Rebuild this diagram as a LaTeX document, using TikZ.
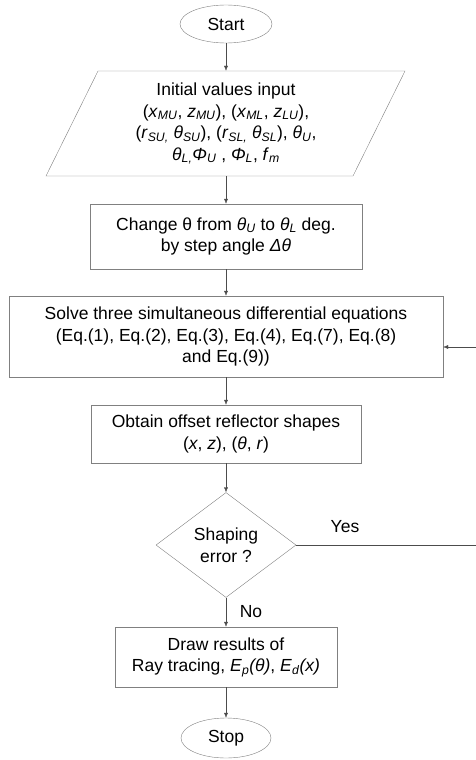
\documentclass[tikz,border=0pt]{standalone}
\usepackage{fontspec}
\setmainfont{Liberation Sans}
\usetikzlibrary{shapes.geometric,arrows.meta}
\newcommand{\vsub}[2]{\textit{#1}\textsubscript{\textit{#2}}}

\begin{document}
\begin{tikzpicture}[x=1pt,y=-1pt,font=\fontsize{17.5}{21.5}\selectfont,
  box/.style={draw=gray,rectangle,align=center,inner sep=0pt},
  term/.style={draw=gray,ellipse,inner sep=0pt},
  flow/.style={draw=black!70,-{Latex[length=5pt,width=4pt]}}]
\useasboundingbox (0,0) rectangle (475,760);
\node[term,minimum width=92,minimum height=38] (start) at (226,24) {Start};
\node[align=center,inner sep=0pt,minimum height=105] (input) at (226,123.5)
  {Initial values input\\
  (\vsub{x}{MU}, \vsub{z}{MU}), (\vsub{x}{ML}, \vsub{z}{LU}),\\
  (\vsub{r}{SU,} \vsub{θ}{SU}), (\vsub{r}{SL,} \vsub{θ}{SL}), \vsub{θ}{U},\\
  \vsub{θ}{L,}\vsub{Φ}{U} , \vsub{Φ}{L}, \vsub{f}{m}};
\draw[gray] (98,71) -- (405,71) -- (353,176) -- (46,176) -- cycle;
\node[box,minimum width=272,minimum height=65] (change) at (226,236.5)
  {Change θ from \vsub{θ}{U} to \vsub{θ}{L} deg.\\by step angle \textit{Δθ}};
\node[box,minimum width=434,minimum height=81] (solve) at (226,336.5)
  {Solve three simultaneous differential equations\\
  (Eq.(1), Eq.(2), Eq.(3), Eq.(4), Eq.(7), Eq.(8)\\and Eq.(9))};
\node[box,minimum width=270,minimum height=58] (obtain) at (226,434)
  {Obtain offset reflector shapes\\(\textit{x}, \textit{z}), (\textit{θ}, \textit{r})};
\node[draw=gray,diamond,minimum width=140,minimum height=105,inner sep=0pt,align=center]
  (check) at (226,545) {Shaping\\error ?};
\node[box,minimum width=222,minimum height=60] (result) at (226,657)
  {Draw results of\\Ray tracing, \vsub{E}{p}\textit{(θ)}, \vsub{E}{d}\textit{(x)}};
\node[term,minimum width=90,minimum height=40] (stop) at (226,738) {Stop};
\node (yes) at (345,527) {Yes};
\node (no) at (251,612) {No};
% return line runs just past the right edge
\coordinate (back) at (476,347);

\draw[flow] (start) -- (input);
\draw[flow] (input) -- (change);
\draw[flow] (change) -- (solve);
\draw[flow] (solve) -- (obtain);
\draw[flow] (obtain) -- (check);
\draw[flow] (check) -- (result);
\draw[flow] (result) -- (stop);
\draw[flow] (check.east) -| (back) -- (solve.east |- back);
\end{tikzpicture}
\end{document}
